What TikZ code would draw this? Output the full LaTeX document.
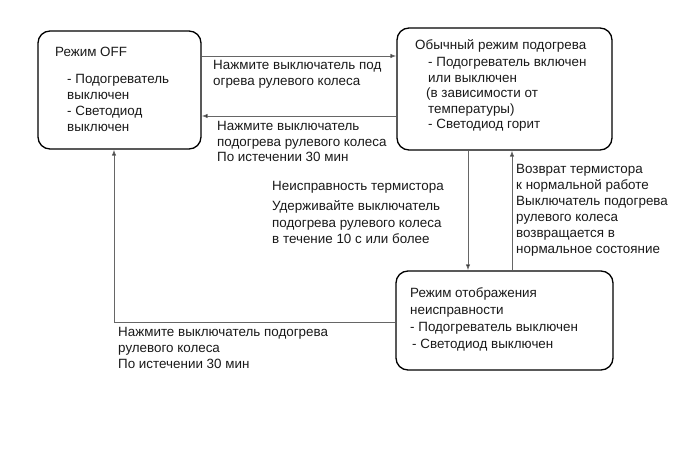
\documentclass[tikz,border=0pt]{standalone}
\usepackage{fontspec}
\setmainfont{Liberation Sans}
\usetikzlibrary{arrows.meta}
\newcommand{\mylines}[1]{\begin{tabular}[t]{@{}l@{}}#1\end{tabular}}
\begin{document}
\begin{tikzpicture}[x=1pt,y=-1pt,
  box/.style={draw=black,line width=1.3pt,rounded corners=12pt,inner sep=0pt},
  txt/.style={anchor=base west,inner sep=0pt,font=\fontsize{13.4}{16}\selectfont,text=black!90},
  conn/.style={draw=black!60,line width=0.9pt,-{Latex[length=6pt,width=4.5pt,fill=black]}},
]
\useasboundingbox (0,0) rectangle (691,465);
% boxes
\node[box,minimum width=163pt,minimum height=118pt] (b1) at (119.5,90) {};
\node[box,minimum width=215pt,minimum height=122pt] (b2) at (504.5,89) {};
\node[box,minimum width=217pt,minimum height=99pt] (b3) at (504.5,320.5) {};
% box texts
\node[txt] (b1t) at (55,57) {Режим OFF};
\node[txt] (b1b) at (67,84) {\mylines{- Подогреватель\\выключен\\- Светодиод\\выключен}};
\node[txt] (b2t) at (415,50) {Обычный режим подогрева};
\node[txt,font=\fontsize{13.4}{15.5}\selectfont] (b2b) at (428,67) {\mylines{- Подогреватель включен\\или выключен\\\hspace*{-2pt}(в зависимости от\\температуры)\\- Светодиод горит}};
\node[txt,font=\fontsize{13.4}{16.7}\selectfont] (b3t) at (410,298) {\mylines{Режим отображения\\неисправности\\- Подогреватель выключен\\\hspace*{2pt}- Светодиод выключен}};
% level coordinates
\coordinate (r1) at (0,56);
\coordinate (r2) at (0,116);
\coordinate (r3) at (0,322);
\coordinate (cd) at (468,0);
\coordinate (cu) at (512,0);
\coordinate (cl) at (114,0);
% connectors
\draw[conn] (b1.east |- r1) -- (b2.west |- r1);
\draw[conn] (b2.west |- r2) -- (b1.east |- r2);
\draw[conn] (b2.south -| cd) -- (b3.north -| cd);
\draw[conn] (b3.north -| cu) -- (b2.south -| cu);
\draw[conn] (b3.west |- r3) -- (cl |- r3) -- (cl |- b1.south);
% labels
\node[txt] (l1) at (213,70) {\mylines{Нажмите выключатель под\\огрева рулевого колеса}};
\node[txt,font=\fontsize{13.4}{15.5}\selectfont] (l2) at (217,131) {\mylines{Нажмите выключатель\\подогрева рулевого колеса\\По истечении 30 мин}};
\node[txt,font=\fontsize{13.4}{16.5}\selectfont] (l3) at (272,191) {\mylines{Неисправность термистора\\[3.5pt]Удерживайте выключатель\\подогрева рулевого колеса\\в течение 10 с или более}};
\node[txt,font=\fontsize{13.4}{16}\selectfont] (l4) at (516,174) {\mylines{Возврат термистора\\к нормальной работе\\Выключатель подогрева\\рулевого колеса\\возвращается в\\нормальное состояние}};
\node[txt] (l5) at (118,336) {\mylines{Нажмите выключатель подогрева\\рулевого колеса\\По истечении 30 мин}};
\end{tikzpicture}
\end{document}
